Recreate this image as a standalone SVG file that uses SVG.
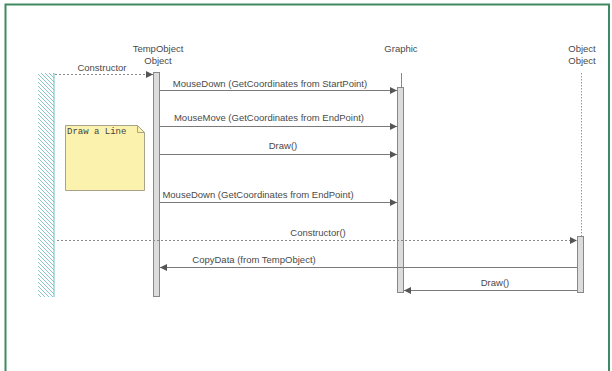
<svg xmlns="http://www.w3.org/2000/svg" width="612" height="371" viewBox="0 0 612 371">
<defs>
<style>
.lbl{font-family:"Liberation Sans",Arial,sans-serif;font-size:9.5px;fill:#4a4a4a}
.msg{stroke:#7a7a7a;stroke-width:1;fill:none}
.dot{stroke:#8a8a8a;stroke-width:1;fill:none;stroke-dasharray:2 2}
.bar{fill:#dcdcdc;stroke:#888;stroke-width:1}
</style>
<marker id="ah" viewBox="0 0 10 10" refX="10" refY="5" markerWidth="9" markerHeight="7" markerUnits="userSpaceOnUse" orient="auto">
<path d="M0,0 L10,5 L0,10 Z" fill="#555"/>
</marker>
<pattern id="hatch" width="4" height="4" patternUnits="userSpaceOnUse">
<path d="M-1,-1 L5,5 M-1,3 L1,5 M3,-1 L5,1" stroke="#6dbcbc" stroke-width="0.8"/>
</pattern>
</defs>
<rect x="0" y="0" width="612" height="371" fill="#fff"/>
<path d="M5.5,375 L5.5,4.5 L609,4.5 L609,375" fill="none" stroke="#3f8a62" stroke-width="2"/>

<g id="actor">
<rect x="38" y="73" width="16" height="224" fill="url(#hatch)"/>
<line x1="54" y1="73" x2="54" y2="297" stroke="#6dbcbc" stroke-width="1"/>
</g>

<g id="tempobject">
<text class="lbl" x="158" y="52" text-anchor="middle">TempObject</text>
<text class="lbl" x="158" y="64" text-anchor="middle">Object</text>
<rect class="bar" x="153.5" y="72.5" width="6" height="224"/>
</g>

<g id="graphic">
<text class="lbl" x="401" y="52" text-anchor="middle">Graphic</text>
<line x1="401.5" y1="73" x2="401.5" y2="87" stroke="#888"/>
<rect class="bar" x="397.5" y="87.5" width="6" height="205"/>
</g>

<g id="object">
<text class="lbl" x="582" y="52" text-anchor="middle">Object</text>
<text class="lbl" x="582" y="64" text-anchor="middle">Object</text>
<line x1="581.5" y1="73" x2="581.5" y2="236" stroke="#999" stroke-dasharray="1.5 1.5"/>
<rect class="bar" x="577.5" y="236.5" width="6" height="56"/>
</g>

<g id="note">
<path d="M65.5,125.5 L137.5,125.5 L144.5,132.5 L144.5,190.5 L65.5,190.5 Z" fill="#fbf3ad" stroke="#a8a48a" stroke-width="1"/>
<path d="M137.5,125.5 L137.5,132.5 L144.5,132.5" fill="none" stroke="#a8a48a" stroke-width="1"/>
<text x="67" y="134" font-family="'Liberation Mono','Courier New',monospace" font-size="9" fill="#444">Draw a Line</text>
</g>

<g id="connectors">
<line class="dot" x1="55" y1="74.5" x2="153" y2="74.5" marker-end="url(#ah)"/>
<text class="lbl" x="102" y="71" text-anchor="middle">Constructor</text>

<line class="msg" x1="160" y1="90.5" x2="397" y2="90.5" marker-end="url(#ah)"/>
<text class="lbl" x="270" y="87" text-anchor="middle">MouseDown (GetCoordinates from StartPoint)</text>

<line class="msg" x1="160" y1="126.5" x2="397" y2="126.5" marker-end="url(#ah)"/>
<text class="lbl" x="269" y="121" text-anchor="middle">MouseMove (GetCoordinates from EndPoint)</text>

<line class="msg" x1="160" y1="154.5" x2="397" y2="154.5" marker-end="url(#ah)"/>
<text class="lbl" x="283" y="149" text-anchor="middle">Draw()</text>

<line class="msg" x1="160" y1="202.5" x2="397" y2="202.5" marker-end="url(#ah)"/>
<text class="lbl" x="258" y="198" text-anchor="middle">MouseDown (GetCoordinates from EndPoint)</text>

<line class="dot" x1="57" y1="240.5" x2="577" y2="240.5" marker-end="url(#ah)"/>
<text class="lbl" x="318" y="236" text-anchor="middle">Constructor()</text>

<line class="msg" x1="577" y1="267.5" x2="160" y2="267.5" marker-end="url(#ah)"/>
<text class="lbl" x="254" y="263" text-anchor="middle">CopyData (from TempObject)</text>

<line class="msg" x1="577" y1="290.5" x2="404" y2="290.5" marker-end="url(#ah)"/>
<text class="lbl" x="495" y="286" text-anchor="middle">Draw()</text>
</g>
</svg>
